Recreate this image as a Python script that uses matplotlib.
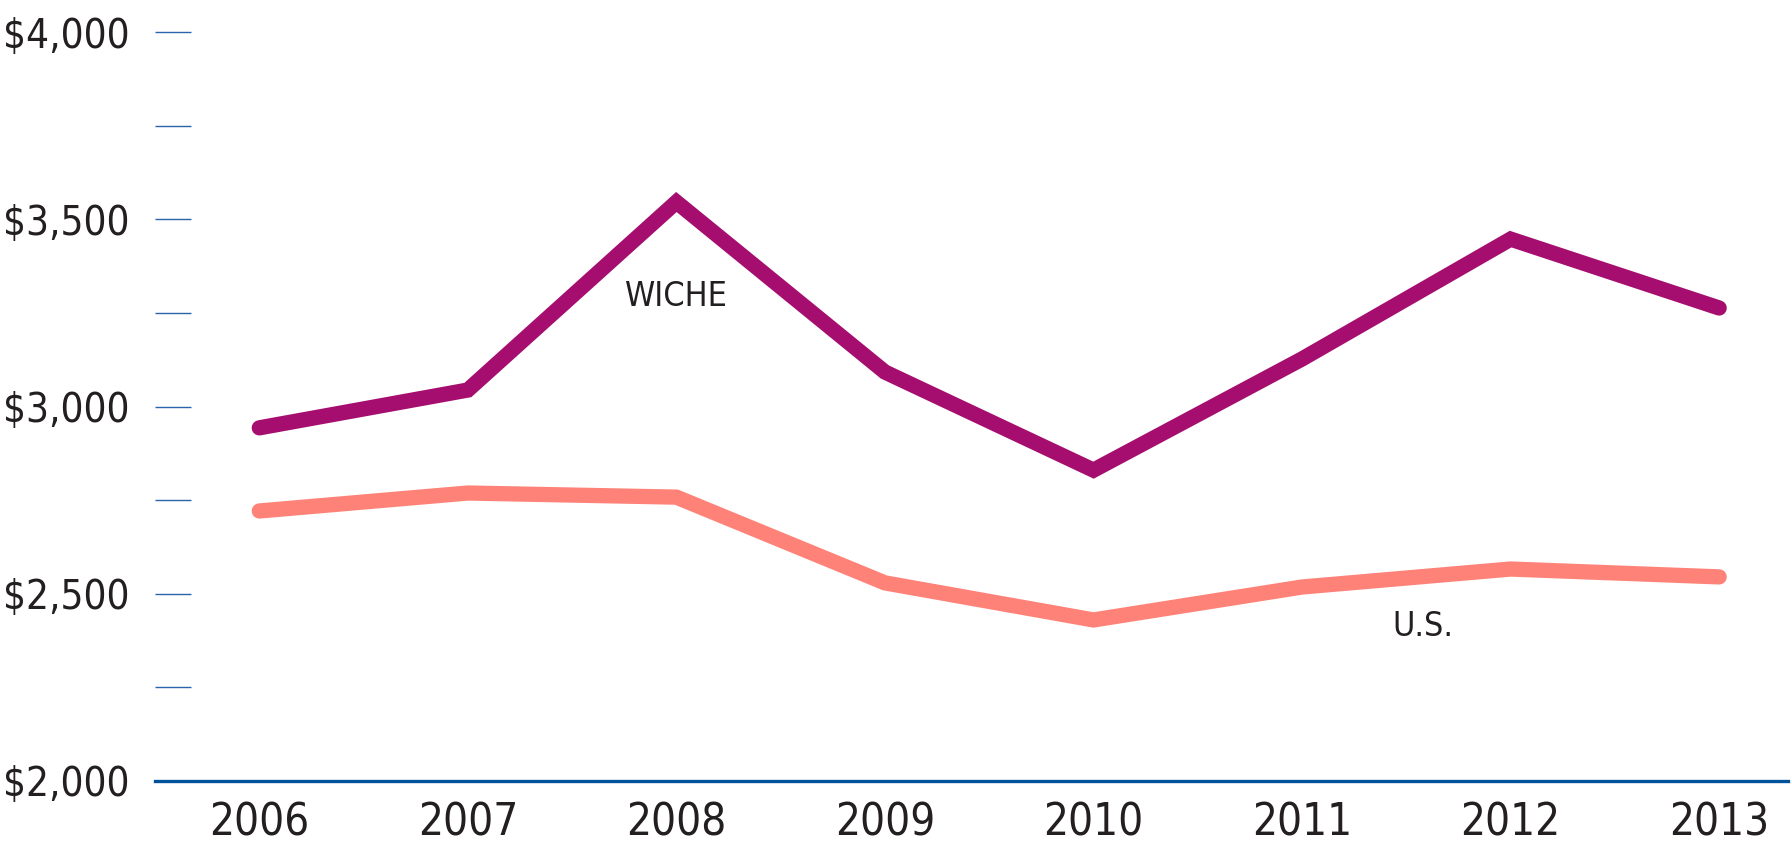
import matplotlib
matplotlib.use("Agg")
import matplotlib.pyplot as plt
from matplotlib import font_manager
from matplotlib.ticker import FixedLocator, FuncFormatter

# data
years = [2006, 2007, 2008, 2009, 2010, 2011, 2012, 2013]
wiche = [2943, 3044, 3546, 3092, 2830, 3127, 3447, 3263]
us = [2721, 2769, 2758, 2529, 2430, 2518, 2566, 2545]
y_ticks = [2000, 2250, 2500, 2750, 3000, 3250, 3500, 3750, 4000]

# look for a condensed / narrow face, the reference uses one
narrow = None
for f in font_manager.fontManager.ttflist:
    n = f.name.lower()
    cond = ("narrow" in n or "condensed" in n or "condensed" in str(f.stretch)
            or str(f.stretch) in ("semi-condensed", "condensed"))
    if cond and f.style == "normal" and f.weight in (400, "normal", "regular"):
        narrow = f.fname
        break

if narrow:
    fp = font_manager.FontProperties(fname=narrow)
    s_tick, s_year, s_lab = 29, 31.5, 24.5
else:
    plt.rcParams["font.family"] = ["Liberation Sans", "DejaVu Sans"]
    fp = font_manager.FontProperties(family=["Liberation Sans", "DejaVu Sans"])
    s_tick, s_year, s_lab = 26, 29, 23

text_col = "#231f20"
wiche_col = "#a50d6e"
us_col = "#ff8278"
axis_col = "#00529b"

fig = plt.figure(figsize=(17.91, 8.44), dpi=100)
ax = fig.add_axes([155 / 1791, 63 / 844, (1788 - 155) / 1791, (781 - 32) / 844])

ax.plot(years, us, color=us_col, lw=11, solid_capstyle="round", solid_joinstyle="miter")
ax.plot(years, wiche, color=wiche_col, lw=11, solid_capstyle="round", solid_joinstyle="miter")

ax.set_xlim(2005.5, 2013.33)
ax.set_ylim(2000, 4000)

for s in ["left", "right", "top"]:
    ax.spines[s].set_visible(False)
ax.spines["bottom"].set_color(axis_col)
ax.spines["bottom"].set_linewidth(2.4)
ax.spines["bottom"].set_zorder(5)

ax.set_xticks(years)
ax.set_xticklabels([str(y) for y in years])
ax.tick_params(axis="x", length=0, pad=15, labelcolor=text_col)

ax.yaxis.set_major_locator(FixedLocator(y_ticks))
ax.yaxis.set_major_formatter(FuncFormatter(lambda v, p: f"${v:,.0f}" if v % 500 == 0 else ""))
ax.tick_params(axis="y", direction="in", length=26, width=1.0, color="#2a64ad",
               pad=18, labelcolor=text_col)

for lab in ax.get_xticklabels():
    lab.set_fontproperties(fp)
    lab.set_fontsize(s_year)
for lab in ax.get_yticklabels():
    lab.set_fontproperties(fp)
    lab.set_fontsize(s_tick)

ax.text(2008.0, 3295, "WICHE", fontproperties=fp, fontsize=s_lab, color=text_col,
        ha="center", va="center")
ax.text(2011.58, 2412, "U.S.", fontproperties=fp, fontsize=s_lab, color=text_col,
        ha="center", va="center")

fig.savefig("out.png", dpi=100)
